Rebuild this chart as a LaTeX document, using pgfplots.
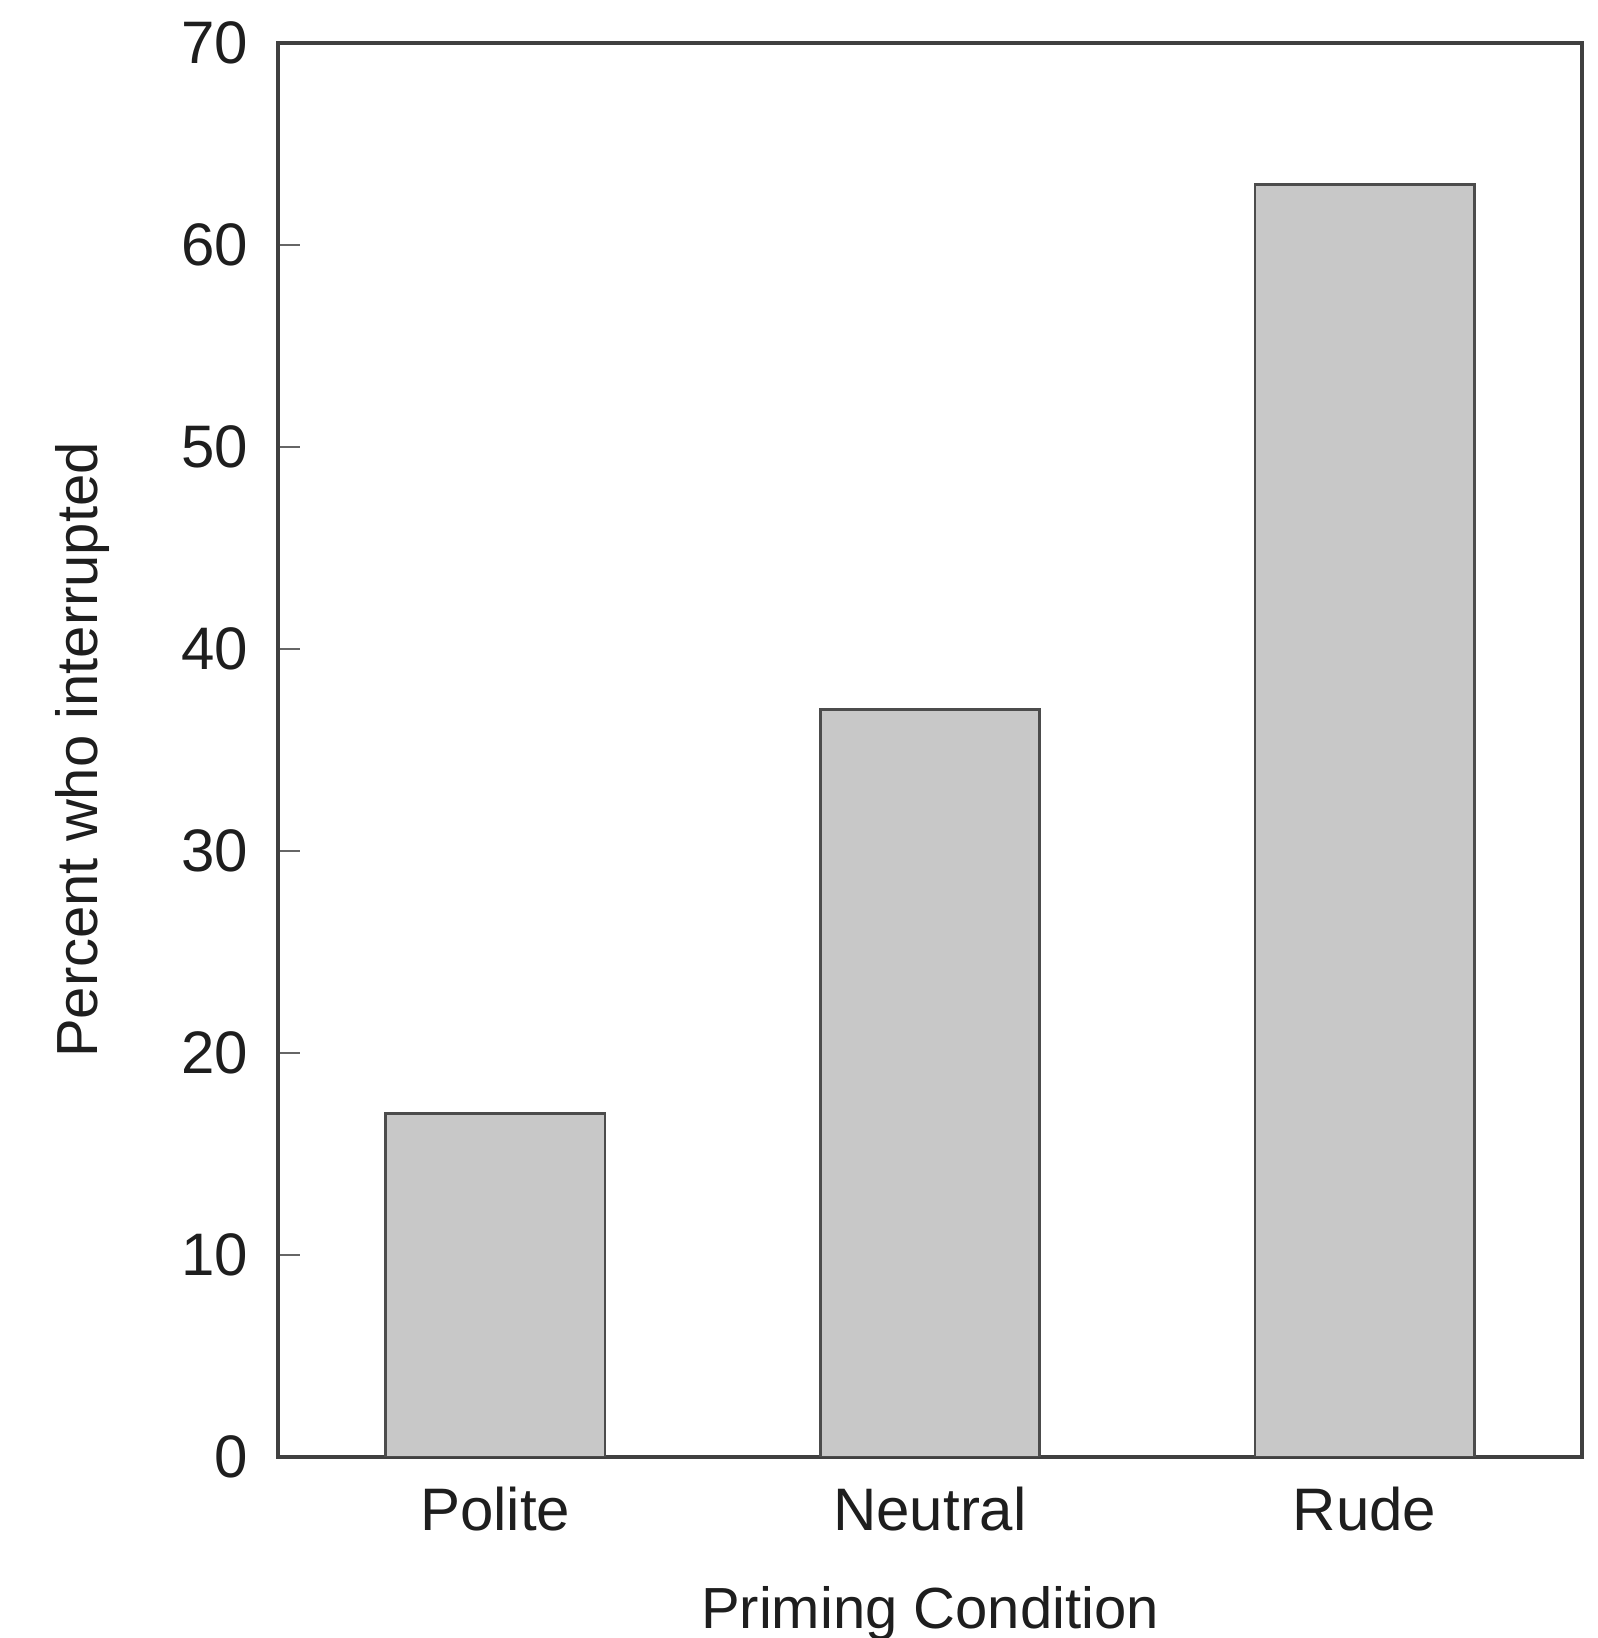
\documentclass[border=0pt]{standalone}
\usepackage{fontspec}
\setmainfont{Liberation Sans}
\usepackage{pgfplots}
\pgfplotsset{compat=1.18}

\definecolor{barfill}{RGB}{200,200,200}
\definecolor{ink}{RGB}{30,30,30}

\begin{document}
\begin{tikzpicture}
\useasboundingbox (0,0) rectangle (399.25pt,409.5pt);
\begin{axis}[
	scale only axis,
	width=326pt, height=353.5pt,
	at={(69.5pt,45.25pt)}, anchor=south west,
	xmin=-0.5, xmax=2.5,
	ymin=0, ymax=70,
	xtick=data,
	xticklabels={Polite, Neutral, Rude},
	ytick={0,10,...,70},
	major x tick style={draw=none},
	ytick pos=left,
	tick align=inside,
	major tick length=5.5pt,
	ytick style={line width=0.4pt, black!60},
	axis line style={line width=0.8pt, black!75},
	/pgf/number format/assume math mode=true,
	tick label style={font=\fontsize{15}{17}\selectfont, text=ink},
	yticklabel style={xshift=-4pt},
	xticklabel style={yshift=-4pt},
	xlabel={Priming Condition},
	ylabel={Percent who interrupted},
	label style={font=\fontsize{14.5}{16}\selectfont, text=ink},
	xlabel style={yshift=-7pt},
	ylabel style={yshift=11pt},
]
	\addplot[ybar, bar width=0.505, fill=barfill, draw=black!70, line width=0.7pt]
	coordinates {(0,17) (1,37) (2,63)};
\end{axis}
\end{tikzpicture}
\end{document}
